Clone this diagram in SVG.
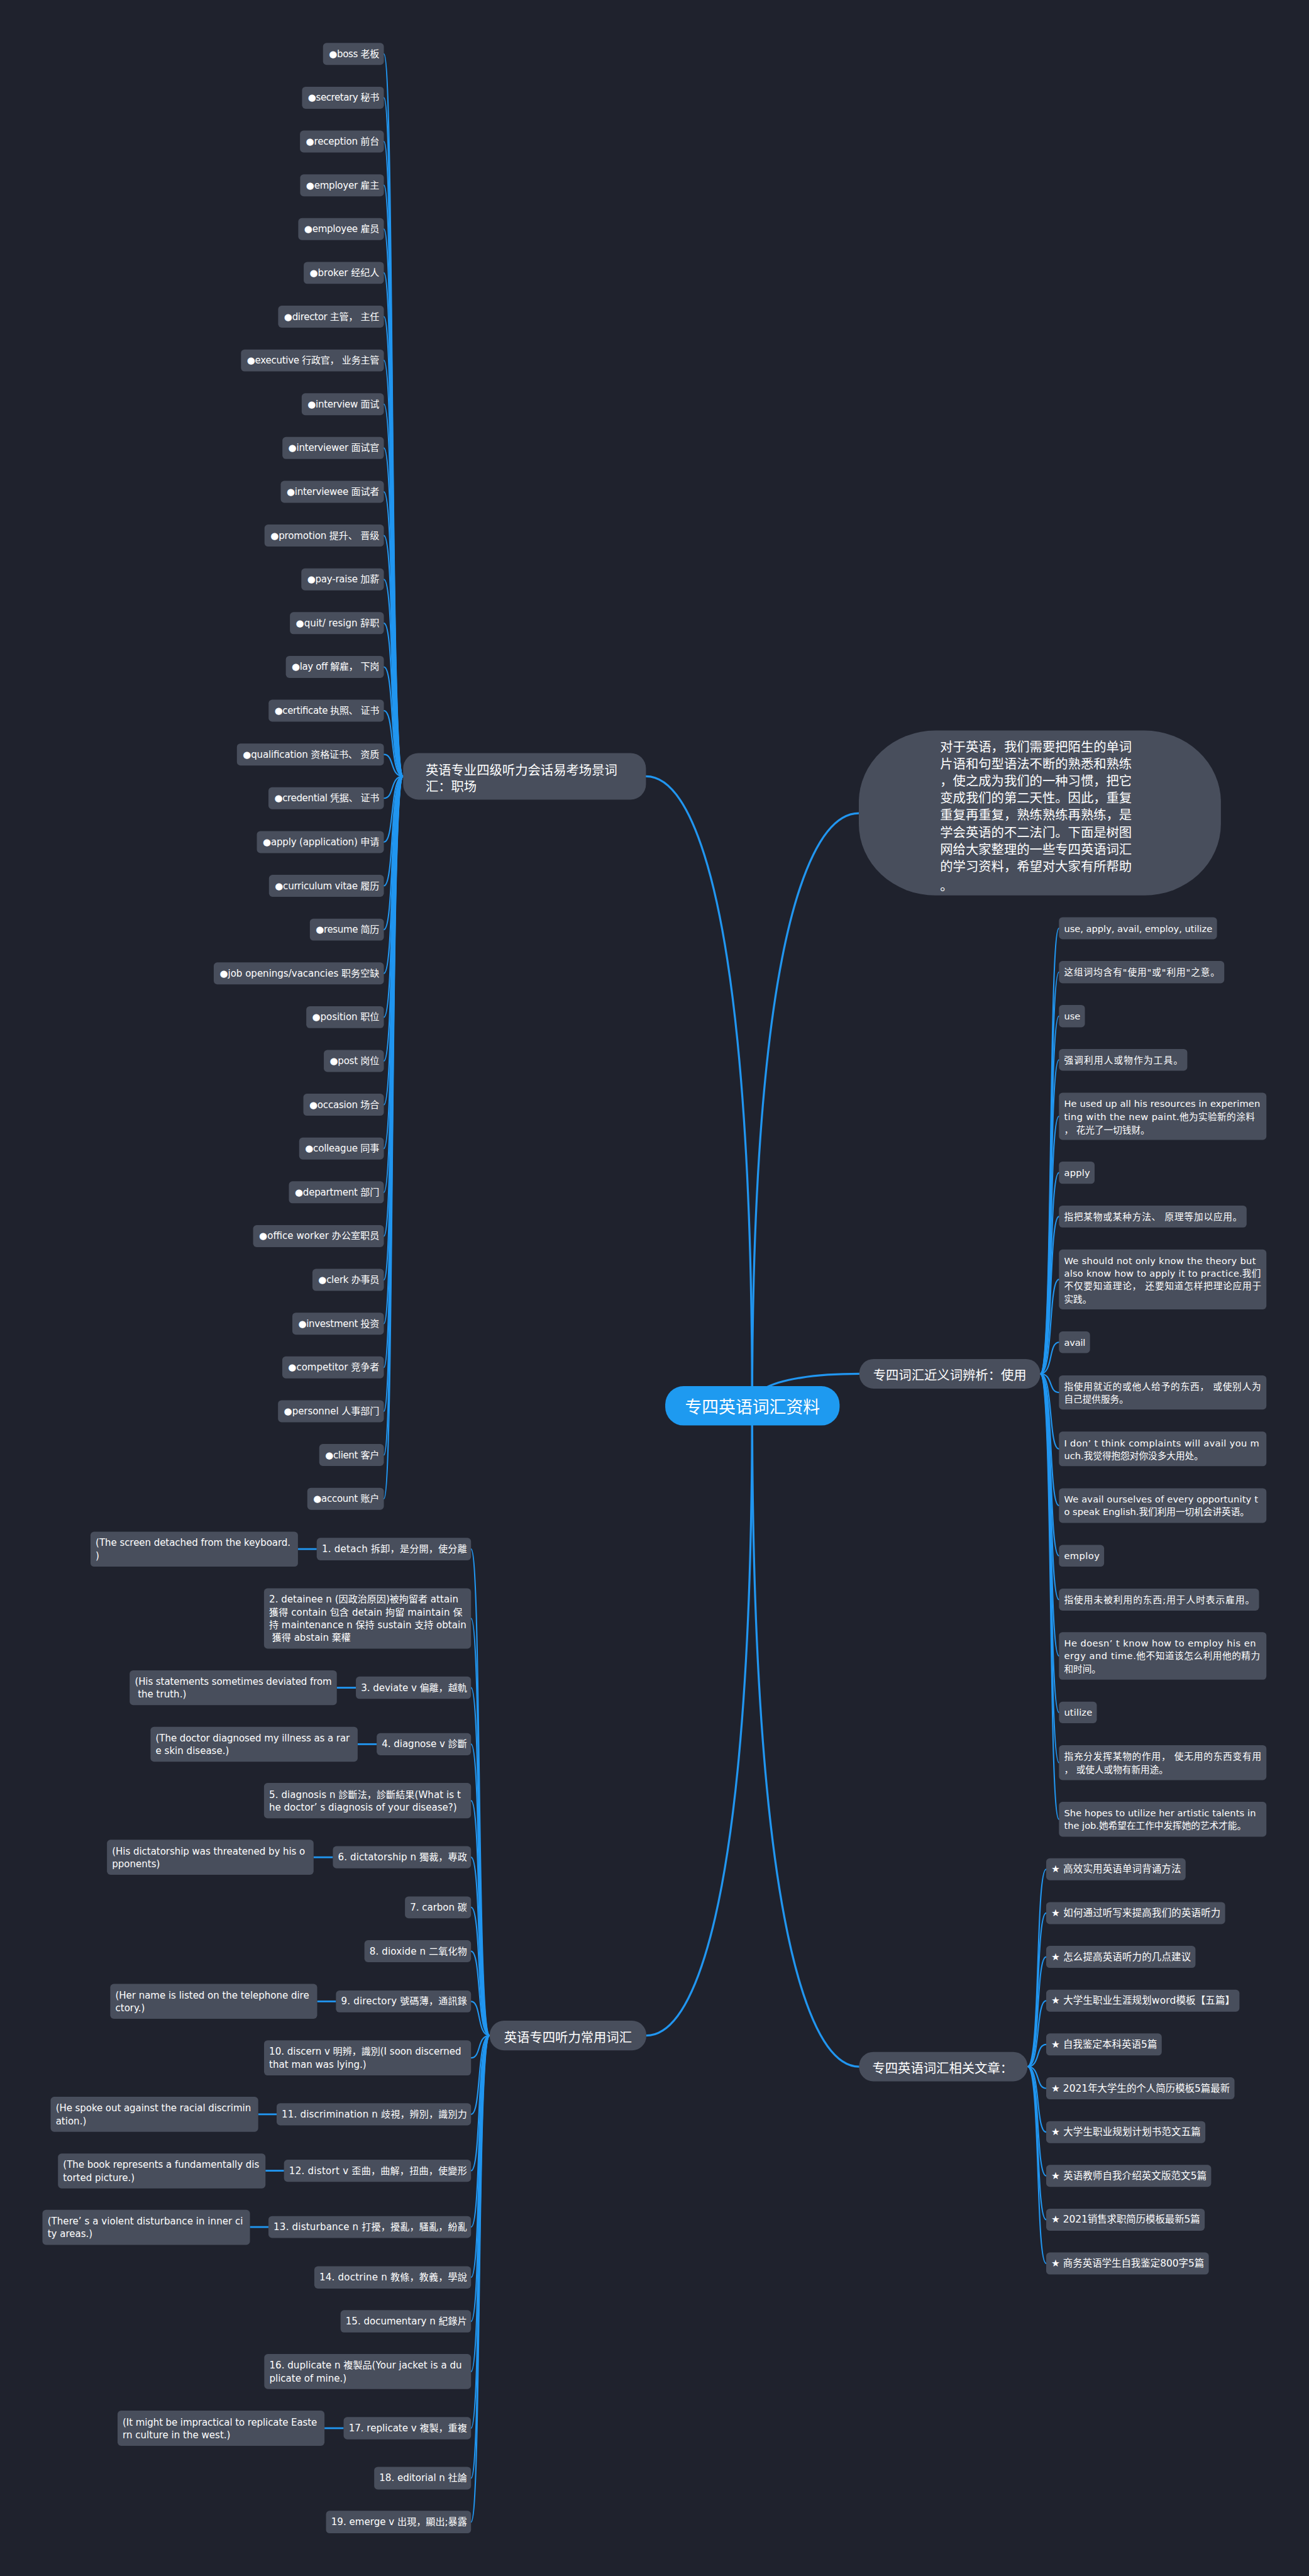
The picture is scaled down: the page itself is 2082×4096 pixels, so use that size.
<svg xmlns="http://www.w3.org/2000/svg" width="2082" height="4096" viewBox="0 0 2082 4096">
<style>
.n{fill:#484e5c}
.t{font-family:"DejaVu Sans","Noto Sans CJK SC",sans-serif;font-size:18.5px;fill:#ffffff;dominant-baseline:central}
.r18{font-size:18px}
.s19{font-size:19px}
.b{font-family:"Noto Sans CJK SC","Noto Sans CJK JP",sans-serif;font-size:25px;fill:#ffffff;dominant-baseline:central}
.rt{font-family:"Noto Sans CJK SC","Noto Sans CJK JP",sans-serif;font-size:33px;fill:#ffffff;dominant-baseline:central;text-anchor:middle}
.c{fill:none;stroke:#2196f0;stroke-width:2.6;stroke-linecap:round}
.cm{fill:none;stroke:#2196f0;stroke-width:4;stroke-linecap:round}
.ch{fill:none;stroke:#2196f0;stroke-width:3.5}
</style>
<rect x="0" y="0" width="2082" height="4096" fill="#1f222d"/>
<g transform="scale(0.81328)">
<g id="connectors">
<path class="cm" d="M1471,2748.5 C1471,1517.8 1291,1517.8 1263.3,1517.8"/>
<path class="cm" d="M1471,2748.5 C1471,1590 1652,1590 1679.6,1590"/>
<path class="cm" d="M1471,2748.5 C1471,2686 1652,2686 1680.5,2686"/>
<path class="cm" d="M1471,2748.5 C1471,3979.7 1292,3979.7 1264,3979.7"/>
<path class="cm" d="M1471,2748.5 C1471,4040.5 1652,4040.5 1680,4040.5"/>
<path class="c" d="M788.4,1517.8 C762,1517.8 772,105.5 750.7,105.5"/>
<path class="c" d="M788.4,1517.8 C762,1517.8 772,191.1 750.7,191.1"/>
<path class="c" d="M788.4,1517.8 C762,1517.8 772,276.7 750.7,276.7"/>
<path class="c" d="M788.4,1517.8 C762,1517.8 772,362.3 750.7,362.3"/>
<path class="c" d="M788.4,1517.8 C762,1517.8 772,447.9 750.7,447.9"/>
<path class="c" d="M788.4,1517.8 C762,1517.8 772,533.5 750.7,533.5"/>
<path class="c" d="M788.4,1517.8 C762,1517.8 772,619.1 750.7,619.1"/>
<path class="c" d="M788.4,1517.8 C762,1517.8 772,704.7 750.7,704.7"/>
<path class="c" d="M788.4,1517.8 C762,1517.8 772,790.3 750.7,790.3"/>
<path class="c" d="M788.4,1517.8 C762,1517.8 772,875.9 750.7,875.9"/>
<path class="c" d="M788.4,1517.8 C762,1517.8 772,961.5 750.7,961.5"/>
<path class="c" d="M788.4,1517.8 C762,1517.8 772,1047.1 750.7,1047.1"/>
<path class="c" d="M788.4,1517.8 C762,1517.8 772,1132.7 750.7,1132.7"/>
<path class="c" d="M788.4,1517.8 C762,1517.8 772,1218.3 750.7,1218.3"/>
<path class="c" d="M788.4,1517.8 C762,1517.8 772,1303.9 750.7,1303.9"/>
<path class="c" d="M788.4,1517.8 C762,1517.8 772,1389.5 750.7,1389.5"/>
<path class="c" d="M788.4,1517.8 C762,1517.8 772,1475.1 750.7,1475.1"/>
<path class="c" d="M788.4,1517.8 C762,1517.8 772,1560.7 750.7,1560.7"/>
<path class="c" d="M788.4,1517.8 C762,1517.8 772,1646.3 750.7,1646.3"/>
<path class="c" d="M788.4,1517.8 C762,1517.8 772,1731.9 750.7,1731.9"/>
<path class="c" d="M788.4,1517.8 C762,1517.8 772,1817.5 750.7,1817.5"/>
<path class="c" d="M788.4,1517.8 C762,1517.8 772,1903.1 750.7,1903.1"/>
<path class="c" d="M788.4,1517.8 C762,1517.8 772,1988.7 750.7,1988.7"/>
<path class="c" d="M788.4,1517.8 C762,1517.8 772,2074.3 750.7,2074.3"/>
<path class="c" d="M788.4,1517.8 C762,1517.8 772,2159.9 750.7,2159.9"/>
<path class="c" d="M788.4,1517.8 C762,1517.8 772,2245.5 750.7,2245.5"/>
<path class="c" d="M788.4,1517.8 C762,1517.8 772,2331.1 750.7,2331.1"/>
<path class="c" d="M788.4,1517.8 C762,1517.8 772,2416.7 750.7,2416.7"/>
<path class="c" d="M788.4,1517.8 C762,1517.8 772,2502.3 750.7,2502.3"/>
<path class="c" d="M788.4,1517.8 C762,1517.8 772,2587.9 750.7,2587.9"/>
<path class="c" d="M788.4,1517.8 C762,1517.8 772,2673.5 750.7,2673.5"/>
<path class="c" d="M788.4,1517.8 C762,1517.8 772,2759.1 750.7,2759.1"/>
<path class="c" d="M788.4,1517.8 C762,1517.8 772,2844.7 750.7,2844.7"/>
<path class="c" d="M788.4,1517.8 C762,1517.8 772,2930.3 750.7,2930.3"/>
<path class="c" d="M2034.4,2686 C2060,2686 2050,1814.9 2071,1814.9"/>
<path class="c" d="M2034.4,2686 C2060,2686 2050,1900.6 2071,1900.6"/>
<path class="c" d="M2034.4,2686 C2060,2686 2050,1986.65 2071,1986.65"/>
<path class="c" d="M2034.4,2686 C2060,2686 2050,2072.1 2071,2072.1"/>
<path class="c" d="M2034.4,2686 C2060,2686 2050,2182.45 2071,2182.45"/>
<path class="c" d="M2034.4,2686 C2060,2686 2050,2292.7 2071,2292.7"/>
<path class="c" d="M2034.4,2686 C2060,2686 2050,2378.5 2071,2378.5"/>
<path class="c" d="M2034.4,2686 C2060,2686 2050,2501.5 2071,2501.5"/>
<path class="c" d="M2034.4,2686 C2060,2686 2050,2624.25 2071,2624.25"/>
<path class="c" d="M2034.4,2686 C2060,2686 2050,2722.4 2071,2722.4"/>
<path class="c" d="M2034.4,2686 C2060,2686 2050,2832.75 2071,2832.75"/>
<path class="c" d="M2034.4,2686 C2060,2686 2050,2943.55 2071,2943.55"/>
<path class="c" d="M2034.4,2686 C2060,2686 2050,3041.75 2071,3041.75"/>
<path class="c" d="M2034.4,2686 C2060,2686 2050,3127.5 2071,3127.5"/>
<path class="c" d="M2034.4,2686 C2060,2686 2050,3237.5 2071,3237.5"/>
<path class="c" d="M2034.4,2686 C2060,2686 2050,3348 2071,3348"/>
<path class="c" d="M2034.4,2686 C2060,2686 2050,3446.15 2071,3446.15"/>
<path class="c" d="M2034.4,2686 C2060,2686 2050,3556.9 2071,3556.9"/>
<path class="c" d="M957.7,3979.7 C932,3979.7 942,3028.6 921.2,3028.6"/>
<path class="c" d="M957.7,3979.7 C932,3979.7 942,3164.35 921.2,3164.35"/>
<path class="c" d="M957.7,3979.7 C932,3979.7 942,3299.7 921.2,3299.7"/>
<path class="c" d="M957.7,3979.7 C932,3979.7 942,3410.1 921.2,3410.1"/>
<path class="c" d="M957.7,3979.7 C932,3979.7 942,3520.5 921.2,3520.5"/>
<path class="c" d="M957.7,3979.7 C932,3979.7 942,3631.2 921.2,3631.2"/>
<path class="c" d="M957.7,3979.7 C932,3979.7 942,3729.1 921.2,3729.1"/>
<path class="c" d="M957.7,3979.7 C932,3979.7 942,3814.9 921.2,3814.9"/>
<path class="c" d="M957.7,3979.7 C932,3979.7 942,3913 921.2,3913"/>
<path class="c" d="M957.7,3979.7 C932,3979.7 942,4023.35 921.2,4023.35"/>
<path class="c" d="M957.7,3979.7 C932,3979.7 942,4133.7 921.2,4133.7"/>
<path class="c" d="M957.7,3979.7 C932,3979.7 942,4244 921.2,4244"/>
<path class="c" d="M957.7,3979.7 C932,3979.7 942,4354.1 921.2,4354.1"/>
<path class="c" d="M957.7,3979.7 C932,3979.7 942,4452.7 921.2,4452.7"/>
<path class="c" d="M957.7,3979.7 C932,3979.7 942,4538.5 921.2,4538.5"/>
<path class="c" d="M957.7,3979.7 C932,3979.7 942,4636.6 921.2,4636.6"/>
<path class="c" d="M957.7,3979.7 C932,3979.7 942,4747.4 921.2,4747.4"/>
<path class="c" d="M957.7,3979.7 C932,3979.7 942,4845.1 921.2,4845.1"/>
<path class="c" d="M957.7,3979.7 C932,3979.7 942,4930.9 921.2,4930.9"/>
<path class="c" d="M2009.5,4040.5 C2035,4040.5 2025,3654.7 2046,3654.7"/>
<path class="c" d="M2009.5,4040.5 C2035,4040.5 2025,3740.3 2046,3740.3"/>
<path class="c" d="M2009.5,4040.5 C2035,4040.5 2025,3826 2046,3826"/>
<path class="c" d="M2009.5,4040.5 C2035,4040.5 2025,3911.6 2046,3911.6"/>
<path class="c" d="M2009.5,4040.5 C2035,4040.5 2025,3997.2 2046,3997.2"/>
<path class="c" d="M2009.5,4040.5 C2035,4040.5 2025,4082.9 2046,4082.9"/>
<path class="c" d="M2009.5,4040.5 C2035,4040.5 2025,4168.5 2046,4168.5"/>
<path class="c" d="M2009.5,4040.5 C2035,4040.5 2025,4254.1 2046,4254.1"/>
<path class="c" d="M2009.5,4040.5 C2035,4040.5 2025,4339.7 2046,4339.7"/>
<path class="c" d="M2009.5,4040.5 C2035,4040.5 2025,4425.4 2046,4425.4"/>
<path class="ch" d="M582.7,3028.6 H619.4"/>
<path class="ch" d="M658.7,3299.7 H696"/>
<path class="ch" d="M699.5,3410.1 H736.7"/>
<path class="ch" d="M613.3,3631.2 H651"/>
<path class="ch" d="M620.3,3913 H657"/>
<path class="ch" d="M505,4133.7 H541"/>
<path class="ch" d="M519.2,4244 H555.4"/>
<path class="ch" d="M488.8,4354.1 H525"/>
<path class="ch" d="M634.6,4747.4 H672"/>
</g>
<g id="root"><rect x="1301" y="2710" width="341" height="77" rx="36" fill="#1e9af0"/><text class="rt" x="1471.5" y="2748.5">专四英语词汇资料</text></g>
<g id="branch-scene"><rect class="n" x="788.4" y="1472.3" width="474.9" height="91" rx="30"/><text class="b" x="832.3" y="1503.3">英语专业四级听力会话易考场景词</text><text class="b" x="832.3" y="1535.5">汇：职场</text></g>
<g id="branch-intro"><rect class="n" x="1679.6" y="1428.3" width="708.1" height="322.4" rx="150" ry="140"/>
<text class="b" x="1838.6" y="1458.3">对于英语，我们需要把陌生的单词</text>
<text class="b" x="1838.6" y="1491.7">片语和句型语法不断的熟悉和熟练</text>
<text class="b" x="1838.6" y="1525">，使之成为我们的一种习惯，把它</text>
<text class="b" x="1838.6" y="1558.3">变成我们的第二天性。因此，重复</text>
<text class="b" x="1838.6" y="1591.7">重复再重复，熟练熟练再熟练，是</text>
<text class="b" x="1838.6" y="1625">学会英语的不二法门。下面是树图</text>
<text class="b" x="1838.6" y="1658.3">网给大家整理的一些专四英语词汇</text>
<text class="b" x="1838.6" y="1691.7">的学习资料，希望对大家有所帮助</text>
<text class="b" x="1838.6" y="1730">。</text></g>
<g id="branch-synonyms"><rect class="n" x="1680.5" y="2657" width="353.9" height="58" rx="28"/><text class="b" x="1857.5" y="2687" text-anchor="middle">专四词汇近义词辨析：使用</text></g>
<g id="branch-listening"><rect class="n" x="957.7" y="3950.7" width="306.3" height="58" rx="28"/><text class="b" x="1110.8" y="3981" text-anchor="middle">英语专四听力常用词汇</text></g>
<g id="branch-articles"><rect class="n" x="1680" y="4011.7" width="329.5" height="57.6" rx="28"/><text class="b" x="1706" y="4041.5">专四英语词汇相关文章：</text></g>

<g id="l01"><rect class="n" x="631.7" y="84" width="119" height="43" rx="7"/><text class="t" x="643.3" y="105.5" textLength="98.4">●boss 老板</text></g>
<g id="l02"><rect class="n" x="590.7" y="169.6" width="160" height="43" rx="7"/><text class="t" x="602.3" y="191.1" textLength="139.4">●secretary 秘书</text></g>
<g id="l03"><rect class="n" x="586.7" y="255.2" width="164" height="43" rx="7"/><text class="t" x="598.3" y="276.7" textLength="143.4">●reception 前台</text></g>
<g id="l04"><rect class="n" x="587" y="340.8" width="163.7" height="43" rx="7"/><text class="t" x="598.6" y="362.3" textLength="143.1">●employer 雇主</text></g>
<g id="l05"><rect class="n" x="583.3" y="426.4" width="167.4" height="43" rx="7"/><text class="t" x="594.9" y="447.9" textLength="146.8">●employee 雇员</text></g>
<g id="l06"><rect class="n" x="594" y="512" width="156.7" height="43" rx="7"/><text class="t" x="605.6" y="533.5" textLength="136.1">●broker 经纪人</text></g>
<g id="l07"><rect class="n" x="544" y="597.6" width="206.7" height="43" rx="7"/><text class="t" x="555.6" y="619.1" textLength="186.1">●director 主管， 主任</text></g>
<g id="l08"><rect class="n" x="471.3" y="683.2" width="279.4" height="43" rx="7"/><text class="t" x="482.9" y="704.7" textLength="258.8">●executive 行政官， 业务主管</text></g>
<g id="l09"><rect class="n" x="590" y="768.8" width="160.7" height="43" rx="7"/><text class="t" x="601.6" y="790.3" textLength="140.1">●interview 面试</text></g>
<g id="l10"><rect class="n" x="552.3" y="854.4" width="198.4" height="43" rx="7"/><text class="t" x="563.9" y="875.9" textLength="177.8">●interviewer 面试官</text></g>
<g id="l11"><rect class="n" x="549" y="940" width="201.7" height="43" rx="7"/><text class="t" x="560.6" y="961.5" textLength="181.1">●interviewee 面试者</text></g>
<g id="l12"><rect class="n" x="517.3" y="1025.6" width="233.4" height="43" rx="7"/><text class="t" x="528.9" y="1047.1" textLength="212.8">●promotion 提升、 晋级</text></g>
<g id="l13"><rect class="n" x="589.3" y="1111.2" width="161.4" height="43" rx="7"/><text class="t" x="600.9" y="1132.7" textLength="140.8">●pay-raise 加薪</text></g>
<g id="l14"><rect class="n" x="567" y="1196.8" width="183.7" height="43" rx="7"/><text class="t" x="578.6" y="1218.3" textLength="163.1">●quit/ resign 辞职</text></g>
<g id="l15"><rect class="n" x="559" y="1282.4" width="191.7" height="43" rx="7"/><text class="t" x="570.6" y="1303.9" textLength="171.1">●lay off 解雇， 下岗</text></g>
<g id="l16"><rect class="n" x="525.3" y="1368" width="225.4" height="43" rx="7"/><text class="t" x="536.9" y="1389.5" textLength="204.8">●certificate 执照、 证书</text></g>
<g id="l17"><rect class="n" x="463.3" y="1453.6" width="287.4" height="43" rx="7"/><text class="t" x="474.9" y="1475.1" textLength="266.8">●qualification 资格证书、 资质</text></g>
<g id="l18"><rect class="n" x="525" y="1539.2" width="225.7" height="43" rx="7"/><text class="t" x="536.6" y="1560.7" textLength="205.1">●credential 凭据、 证书</text></g>
<g id="l19"><rect class="n" x="502.3" y="1624.8" width="248.4" height="43" rx="7"/><text class="t" x="513.9" y="1646.3" textLength="227.8">●apply (application) 申请</text></g>
<g id="l20"><rect class="n" x="526" y="1710.4" width="224.7" height="43" rx="7"/><text class="t" x="537.6" y="1731.9" textLength="204.1">●curriculum vitae 履历</text></g>
<g id="l21"><rect class="n" x="606" y="1796" width="144.7" height="43" rx="7"/><text class="t" x="617.6" y="1817.5" textLength="124.1">●resume 简历</text></g>
<g id="l22"><rect class="n" x="418" y="1881.6" width="332.7" height="43" rx="7"/><text class="t" x="429.6" y="1903.1" textLength="312.1">●job openings/vacancies 职务空缺</text></g>
<g id="l23"><rect class="n" x="599" y="1967.2" width="151.7" height="43" rx="7"/><text class="t" x="610.6" y="1988.7" textLength="131.1">●position 职位</text></g>
<g id="l24"><rect class="n" x="633.3" y="2052.8" width="117.4" height="43" rx="7"/><text class="t" x="644.9" y="2074.3" textLength="96.8">●post 岗位</text></g>
<g id="l25"><rect class="n" x="593.3" y="2138.4" width="157.4" height="43" rx="7"/><text class="t" x="604.9" y="2159.9" textLength="136.8">●occasion 场合</text></g>
<g id="l26"><rect class="n" x="585" y="2224" width="165.7" height="43" rx="7"/><text class="t" x="596.6" y="2245.5" textLength="145.1">●colleague 同事</text></g>
<g id="l27"><rect class="n" x="565" y="2309.6" width="185.7" height="43" rx="7"/><text class="t" x="576.6" y="2331.1" textLength="165.1">●department 部门</text></g>
<g id="l28"><rect class="n" x="495" y="2395.2" width="255.7" height="43" rx="7"/><text class="t" x="506.6" y="2416.7" textLength="235.1">●office worker 办公室职员</text></g>
<g id="l29"><rect class="n" x="611" y="2480.8" width="139.7" height="43" rx="7"/><text class="t" x="622.6" y="2502.3" textLength="119.1">●clerk 办事员</text></g>
<g id="l30"><rect class="n" x="571.7" y="2566.4" width="179" height="43" rx="7"/><text class="t" x="583.3" y="2587.9" textLength="158.4">●investment 投资</text></g>
<g id="l31"><rect class="n" x="552" y="2652" width="198.7" height="43" rx="7"/><text class="t" x="563.6" y="2673.5" textLength="178.1">●competitor 竞争者</text></g>
<g id="l32"><rect class="n" x="543.7" y="2737.6" width="207" height="43" rx="7"/><text class="t" x="555.3" y="2759.1" textLength="186.4">●personnel 人事部门</text></g>
<g id="l33"><rect class="n" x="624.3" y="2823.2" width="126.4" height="43" rx="7"/><text class="t" x="635.9" y="2844.7" textLength="105.8">●client 客户</text></g>
<g id="l34"><rect class="n" x="601" y="2908.8" width="149.7" height="43" rx="7"/><text class="t" x="612.6" y="2930.3" textLength="129.1">●account 账户</text></g>

<g id="r01"><rect class="n" x="2071" y="1793.3" width="309" height="43.1" rx="7"/><text class="t r18" x="2081" y="1814.9" textLength="290">use, apply, avail, employ, utilize</text></g>
<g id="r02"><rect class="n" x="2071" y="1878.8" width="323.3" height="43.6" rx="7"/><text class="t r18" x="2081" y="1900.6" textLength="304.3">这组词均含有"使用"或"利用"之意。</text></g>
<g id="r03"><rect class="n" x="2071" y="1964.8" width="50.7" height="43.7" rx="7"/><text class="t r18" x="2081" y="1986.65" textLength="31.7">use</text></g>
<g id="r04"><rect class="n" x="2071" y="2050.9" width="251" height="42.4" rx="7"/><text class="t r18" x="2081" y="2072.1" textLength="232">强调利用人或物作为工具。</text></g>
<g id="r05"><rect class="n" x="2071" y="2136.4" width="405.7" height="92.1" rx="7"/><text class="t r18" x="2081" y="2157.6" textLength="383.3">He used up all his resources in experimen</text><text class="t r18" x="2081" y="2183" textLength="373">ting with the new paint.他为实验新的涂料</text><text class="t r18" x="2081" y="2208.5">， 花光了一切钱财。</text></g>
<g id="r06"><rect class="n" x="2071" y="2270.9" width="69.7" height="43.6" rx="7"/><text class="t r18" x="2081" y="2292.7" textLength="50.7">apply</text></g>
<g id="r07"><rect class="n" x="2071" y="2357" width="367" height="43" rx="7"/><text class="t r18" x="2081" y="2378.5" textLength="348">指把某物或某种方法、 原理等加以应用。</text></g>
<g id="r08"><rect class="n" x="2071" y="2443" width="405.7" height="117" rx="7"/><text class="t r18" x="2081" y="2464.8" textLength="375">We should not only know the theory but</text><text class="t r18" x="2081" y="2489.7" textLength="384.7">also know how to apply it to practice.我们</text><text class="t r18" x="2081" y="2514.5" textLength="385.7">不仅要知道理论， 还要知道怎样把理论应用于</text><text class="t r18" x="2081" y="2539.4">实践。</text></g>
<g id="r09"><rect class="n" x="2071" y="2603" width="60.7" height="42.5" rx="7"/><text class="t r18" x="2081" y="2624.25" textLength="41.7">avail</text></g>
<g id="r10"><rect class="n" x="2071" y="2689" width="405.7" height="66.8" rx="7"/><text class="t r18" x="2081" y="2710.3" textLength="385">指使用就近的或他人给予的东西， 或使别人为</text><text class="t r18" x="2081" y="2735.7">自己提供服务。</text></g>
<g id="r11"><rect class="n" x="2071" y="2798.9" width="405.7" height="67.7" rx="7"/><text class="t r18" x="2081" y="2820.7" textLength="381.7">I don’ t think complaints will avail you m</text><text class="t r18" x="2081" y="2846">uch.我觉得抱怨对你没多大用处。</text></g>
<g id="r12"><rect class="n" x="2071" y="2909.7" width="405.7" height="67.7" rx="7"/><text class="t r18" x="2081" y="2930.9" textLength="379.3">We avail ourselves of every opportunity t</text><text class="t r18" x="2081" y="2955.6">o speak English.我们利用一切机会讲英语。</text></g>
<g id="r13"><rect class="n" x="2071" y="3020.5" width="88.3" height="42.5" rx="7"/><text class="t r18" x="2081" y="3041.75" textLength="69.3">employ</text></g>
<g id="r14"><rect class="n" x="2071" y="3106" width="391.3" height="43" rx="7"/><text class="t r18" x="2081" y="3127.5" textLength="372.3">指使用未被利用的东西;用于人时表示雇用。</text></g>
<g id="r15"><rect class="n" x="2071" y="3191" width="405.7" height="93" rx="7"/><text class="t r18" x="2081" y="3212.8" textLength="375">He doesn’ t know how to employ his en</text><text class="t r18" x="2081" y="3237.5" textLength="383.3">ergy and time.他不知道该怎么利用他的精力</text><text class="t r18" x="2081" y="3262.2">和时间。</text></g>
<g id="r16"><rect class="n" x="2071" y="3327" width="74" height="42" rx="7"/><text class="t r18" x="2081" y="3348" textLength="55">utilize</text></g>
<g id="r17"><rect class="n" x="2071" y="3412" width="405.7" height="68.3" rx="7"/><text class="t r18" x="2081" y="3433.8" textLength="385.7">指充分发挥某物的作用， 使无用的东西变有用</text><text class="t r18" x="2081" y="3459">， 或使人或物有新用途。</text></g>
<g id="r18"><rect class="n" x="2071" y="3522.8" width="405.7" height="68.2" rx="7"/><text class="t r18" x="2081" y="3544" textLength="375">She hopes to utilize her artistic talents in</text><text class="t r18" x="2081" y="3569.3">the job.她希望在工作中发挥她的艺术才能。</text></g>

<g id="b01"><rect class="n" x="619.4" y="3006.8" width="301.8" height="43.7" rx="7"/><text class="t" x="629.4" y="3028.6" textLength="283.8">1. detach 拆卸，是分開，使分離</text></g>
<g id="b01-ex"><rect class="n" x="177" y="2994.7" width="405.7" height="68.3" rx="7"/><text class="t" x="187" y="3016.6" textLength="381.2">(The screen detached from the keyboard.</text><text class="t" x="187" y="3042.5">)</text></g>
<g id="b02"><rect class="n" x="516.3" y="3105.4" width="404.9" height="117.9" rx="7"/><text class="t" x="526.3" y="3127.3" textLength="370">2. detainee n (因政治原因)被拘留者 attain</text><text class="t" x="526.3" y="3152.3" textLength="378">獲得 contain 包含 detain 拘留 maintain 保</text><text class="t" x="526.3" y="3177.3" textLength="385.7">持 maintenance n 保持 sustain 支持 obtain</text><text class="t" x="532.2" y="3201.9">獲得 abstain 棄權</text></g>
<g id="b03"><rect class="n" x="696" y="3277.8" width="225.2" height="43.7" rx="7"/><text class="t" x="706" y="3299.7" textLength="207.2">3. deviate v 偏離，越軌</text></g>
<g id="b03-ex"><rect class="n" x="253.6" y="3265.7" width="405.1" height="67.9" rx="7"/><text class="t" x="263.6" y="3288" textLength="385.2">(His statements sometimes deviated from</text><text class="t" x="269.5" y="3312.6">the truth.)</text></g>
<g id="b04"><rect class="n" x="736.7" y="3388.5" width="184.5" height="43.3" rx="7"/><text class="t" x="746.7" y="3410.1" textLength="166.5">4. diagnose v 診斷</text></g>
<g id="b04-ex"><rect class="n" x="294.4" y="3376" width="405.1" height="68.3" rx="7"/><text class="t" x="304.4" y="3398.3" textLength="379.6">(The doctor diagnosed my illness as a rar</text><text class="t" x="304.4" y="3423.3">e skin disease.)</text></g>
<g id="b05"><rect class="n" x="516.3" y="3486" width="404.9" height="69" rx="7"/><text class="t" x="526.3" y="3509" textLength="375">5. diagnosis n 診斷法，診斷結果(What is t</text><text class="t" x="526.3" y="3533.6">he doctor’ s diagnosis of your disease?)</text></g>
<g id="b06"><rect class="n" x="651" y="3609.5" width="270.2" height="43.3" rx="7"/><text class="t" x="661" y="3631.2" textLength="252.2">6. dictatorship n 獨裁，專政</text></g>
<g id="b06-ex"><rect class="n" x="209.2" y="3597" width="404.1" height="68.3" rx="7"/><text class="t" x="219.2" y="3619.3" textLength="377.5">(His dictatorship was threatened by his o</text><text class="t" x="219.2" y="3644.3">pponents)</text></g>
<g id="b07"><rect class="n" x="792" y="3707.7" width="129.2" height="42.8" rx="7"/><text class="t" x="802" y="3729.1" textLength="111.2">7. carbon 碳</text></g>
<g id="b08"><rect class="n" x="712.7" y="3793.4" width="208.5" height="42.9" rx="7"/><text class="t" x="722.7" y="3814.9" textLength="190.5">8. dioxide n 二氧化物</text></g>
<g id="b09"><rect class="n" x="657" y="3891.6" width="264.2" height="42.9" rx="7"/><text class="t" x="667" y="3913" textLength="246.2">9. directory 號碼薄，通訊錄</text></g>
<g id="b09-ex"><rect class="n" x="215.6" y="3878.7" width="404.7" height="68.3" rx="7"/><text class="t" x="225.6" y="3901" textLength="378.9">(Her name is listed on the telephone dire</text><text class="t" x="225.6" y="3926">ctory.)</text></g>
<g id="b10"><rect class="n" x="516.4" y="3989" width="404.8" height="68.7" rx="7"/><text class="t" x="526.4" y="4011.3" textLength="375.5">10. discern v 明辨，識別(I soon discerned</text><text class="t" x="526.4" y="4036.3">that man was lying.)</text></g>
<g id="b11"><rect class="n" x="541" y="4112" width="380.2" height="43.4" rx="7"/><text class="t" x="551" y="4133.7" textLength="362.2">11. discrimination n 歧視，辨別，識別力</text></g>
<g id="b11-ex"><rect class="n" x="99" y="4099.6" width="406" height="68.4" rx="7"/><text class="t" x="109" y="4122" textLength="381.8">(He spoke out against the racial discrimin</text><text class="t" x="109" y="4147">ation.)</text></g>
<g id="b12"><rect class="n" x="555.4" y="4222.4" width="365.8" height="43.3" rx="7"/><text class="t" x="565.4" y="4244" textLength="347.8">12. distort v 歪曲，曲解，扭曲，使變形</text></g>
<g id="b12-ex"><rect class="n" x="113.4" y="4210.4" width="405.8" height="68.3" rx="7"/><text class="t" x="123.4" y="4232.7" textLength="383.5">(The book represents a fundamentally dis</text><text class="t" x="123.4" y="4257.7">torted picture.)</text></g>
<g id="b13"><rect class="n" x="525" y="4332.7" width="396.2" height="42.8" rx="7"/><text class="t" x="535" y="4354.1" textLength="378.2">13. disturbance n 打擾，擾亂，騷亂，紛亂</text></g>
<g id="b13-ex"><rect class="n" x="83" y="4320.6" width="405.8" height="68.4" rx="7"/><text class="t" x="93" y="4343" textLength="382.3">(There’ s a violent disturbance in inner ci</text><text class="t" x="93" y="4367.5">ty areas.)</text></g>
<g id="b14"><rect class="n" x="614.7" y="4430.9" width="306.5" height="43.6" rx="7"/><text class="t" x="624.7" y="4452.7" textLength="288.5">14. doctrine n 教條，教義，學說</text></g>
<g id="b15"><rect class="n" x="666" y="4516.6" width="255.2" height="43.7" rx="7"/><text class="t" x="676" y="4538.5" textLength="237.2">15. documentary n 紀錄片</text></g>
<g id="b16"><rect class="n" x="516.8" y="4602.3" width="404.4" height="68.6" rx="7"/><text class="t" x="526.8" y="4625" textLength="376.4">16. duplicate n 複製品(Your jacket is a du</text><text class="t" x="526.8" y="4649.8">plicate of mine.)</text></g>
<g id="b17"><rect class="n" x="672" y="4725.6" width="249.2" height="43.6" rx="7"/><text class="t" x="682" y="4747.4" textLength="231.2">17. replicate v 複製，重複</text></g>
<g id="b17-ex"><rect class="n" x="229.9" y="4713" width="404.7" height="68.8" rx="7"/><text class="t" x="239.9" y="4735.9" textLength="380.2">(It might be impractical to replicate Easte</text><text class="t" x="239.9" y="4760.8">rn culture in the west.)</text></g>
<g id="b18"><rect class="n" x="731.8" y="4823" width="189.4" height="44.2" rx="7"/><text class="t" x="741.8" y="4845.1" textLength="171.4">18. editorial n 社論</text></g>
<g id="b19"><rect class="n" x="637.6" y="4908.9" width="283.6" height="44" rx="7"/><text class="t" x="647.6" y="4930.9" textLength="265.6">19. emerge v 出現，顯出;暴露</text></g>

<g id="a01"><rect class="n" x="2046" y="3633.2" width="272.7" height="43" rx="7"/><text class="t s19" x="2056" y="3654.7" textLength="253.7">★ 高效实用英语单词背诵方法</text></g>
<g id="a02"><rect class="n" x="2046" y="3718.8" width="350" height="43" rx="7"/><text class="t s19" x="2056" y="3740.3" textLength="331">★ 如何通过听写来提高我们的英语听力</text></g>
<g id="a03"><rect class="n" x="2046" y="3804.5" width="292" height="43" rx="7"/><text class="t s19" x="2056" y="3826" textLength="273">★ 怎么提高英语听力的几点建议</text></g>
<g id="a04"><rect class="n" x="2046" y="3890.1" width="378" height="43" rx="7"/><text class="t s19" x="2056" y="3911.6" textLength="359">★ 大学生职业生涯规划word模板【五篇】</text></g>
<g id="a05"><rect class="n" x="2046" y="3975.7" width="226" height="43" rx="7"/><text class="t s19" x="2056" y="3997.2" textLength="207">★ 自我鉴定本科英语5篇</text></g>
<g id="a06"><rect class="n" x="2046" y="4061.4" width="368.3" height="43" rx="7"/><text class="t s19" x="2056" y="4082.9" textLength="349.3">★ 2021年大学生的个人简历模板5篇最新</text></g>
<g id="a07"><rect class="n" x="2046" y="4147" width="311.3" height="43" rx="7"/><text class="t s19" x="2056" y="4168.5" textLength="292.3">★ 大学生职业规划计划书范文五篇</text></g>
<g id="a08"><rect class="n" x="2046" y="4232.6" width="322.7" height="43" rx="7"/><text class="t s19" x="2056" y="4254.1" textLength="303.7">★ 英语教师自我介绍英文版范文5篇</text></g>
<g id="a09"><rect class="n" x="2046" y="4318.2" width="310" height="43" rx="7"/><text class="t s19" x="2056" y="4339.7" textLength="291">★ 2021销售求职简历模板最新5篇</text></g>
<g id="a10"><rect class="n" x="2046" y="4403.9" width="318" height="43" rx="7"/><text class="t s19" x="2056" y="4425.4" textLength="299">★ 商务英语学生自我鉴定800字5篇</text></g>
</g>
</svg>
